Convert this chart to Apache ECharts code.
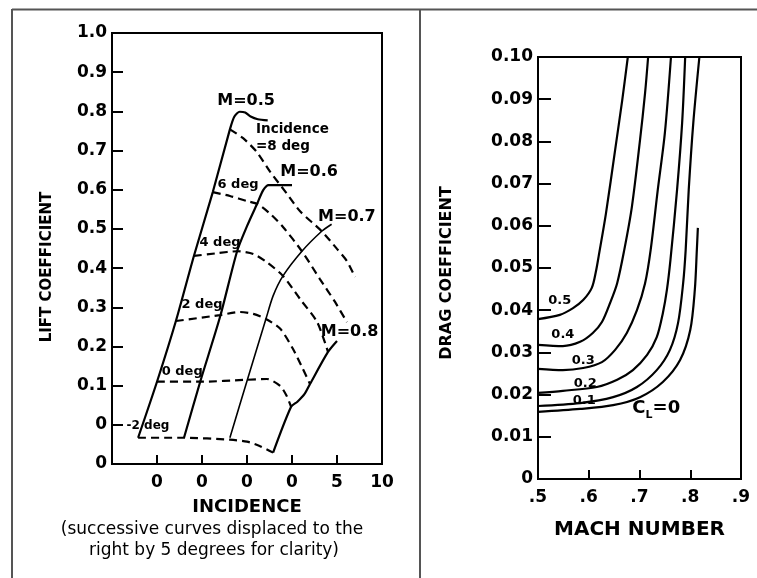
<!DOCTYPE html>
<html>
<head>
<meta charset="utf-8">
<script src="https://cdn.jsdelivr.net/npm/echarts@6/dist/echarts.min.js"></script>
<style>
  html, body { margin: 0; padding: 0; background: #fff; }
  #chart { width: 757px; height: 578px; }
</style>
</head>
<body>
<div id="chart"></div>
<script>
// left panel: lift coefficient vs incidence, each Mach curve shifted right by 5 deg
const machNames = ["M=0.5", "M=0.6", "M=0.7", "M=0.8"];
const shiftDeg = 5;
// [incidence (deg), CL] along each Mach curve
const liftM05 = [[-2.1, -0.033], [0, 0.11], [2.1, 0.265], [4.1, 0.431], [6.2, 0.594], [8.1, 0.754], [8.6, 0.787], [9.2, 0.799], [9.8, 0.797], [10.4, 0.787], [11.2, 0.78], [12.3, 0.777]];
const liftM06 = [[-2.0, -0.033], [-0.2, 0.11], [2.0, 0.275], [3.9, 0.443], [5.0, 0.507], [6.1, 0.563], [6.8, 0.599], [7.4, 0.612], [8.3, 0.612], [10.0, 0.612]];
const liftM07 = [[-1.9, -0.033], [0, 0.112], [2.1, 0.27], [2.9, 0.329], [4.0, 0.38], [6.1, 0.443], [8.3, 0.494], [9.4, 0.512]];
const liftM08 = [[-2.1, -0.071], [-0.1, 0.046], [0.6, 0.059], [1.4, 0.079], [2.0, 0.104], [4.0, 0.186], [5.0, 0.214]];
// constant-incidence lines, in displaced axis units
const incNames = ["-2 deg", "0 deg", "2 deg", "4 deg", "6 deg", "Incidence\n=8 deg"];
const incM2 = [[2.9, -0.033], [8.0, -0.033], [13.1, -0.038], [15.0, -0.043], [16.4, -0.054], [17.9, -0.071]];
const inc0 = [[5.0, 0.11], [9.8, 0.11], [15.0, 0.115], [17.2, 0.117], [18.7, 0.099], [19.4, 0.074], [19.9, 0.046]];
const inc2 = [[7.1, 0.265], [12.0, 0.28], [14.2, 0.288], [15.7, 0.283], [17.1, 0.27], [18.7, 0.245], [20.1, 0.194], [21.2, 0.143], [22.0, 0.104]];
const inc4 = [[9.1, 0.431], [11.7, 0.438], [13.9, 0.443], [15.7, 0.436], [17.2, 0.415], [19.0, 0.38], [20.9, 0.321], [22.8, 0.262], [24.0, 0.186]];
const inc6 = [[11.2, 0.594], [13.1, 0.584], [15.0, 0.571], [16.2, 0.563], [17.6, 0.538], [19.0, 0.505], [21.1, 0.443], [23.1, 0.372], [24.8, 0.313], [26.1, 0.262]];
const inc8 = [[13.1, 0.754], [14.6, 0.731], [16.1, 0.696], [17.6, 0.645], [19.4, 0.591], [20.9, 0.545], [23.3, 0.494], [25.0, 0.449], [26.1, 0.418], [27.0, 0.377]];
const incTickLabels = ["", "0", "0", "0", "0", "5", "10"];

// right panel: drag coefficient vs Mach number
const clNames = ["0.5", "0.4", "0.3", "0.2", "0.1", "C_L=0"];
const dragCL05 = [[0.5, 0.0379], [0.543, 0.0389], [0.569, 0.0405], [0.589, 0.0424], [0.606, 0.0453], [0.614, 0.0491], [0.62, 0.0531], [0.634, 0.063], [0.652, 0.078], [0.666, 0.0898], [0.677, 0.1]];
const dragCL04 = [[0.5, 0.0318], [0.549, 0.0315], [0.583, 0.0325], [0.608, 0.0346], [0.626, 0.0372], [0.642, 0.0417], [0.656, 0.0464], [0.67, 0.0543], [0.685, 0.0645], [0.701, 0.0803], [0.711, 0.0915], [0.717, 0.1]];
const dragCL03 = [[0.5, 0.0261], [0.549, 0.0258], [0.589, 0.0263], [0.626, 0.0277], [0.652, 0.0306], [0.675, 0.0346], [0.695, 0.04], [0.711, 0.0464], [0.722, 0.0543], [0.736, 0.0685], [0.75, 0.082], [0.762, 0.1]];
const dragCL02 = [[0.5, 0.0204], [0.549, 0.0209], [0.616, 0.0218], [0.656, 0.0235], [0.687, 0.0258], [0.715, 0.0294], [0.734, 0.0336], [0.746, 0.0393], [0.754, 0.0448], [0.761, 0.0519], [0.774, 0.0685], [0.784, 0.0844], [0.79, 0.1]];
const dragCL01 = [[0.5, 0.0173], [0.583, 0.018], [0.648, 0.0194], [0.695, 0.0218], [0.734, 0.0258], [0.76, 0.0306], [0.776, 0.037], [0.786, 0.0464], [0.791, 0.0543], [0.797, 0.0685], [0.806, 0.0844], [0.818, 0.1]];
const dragCL00 = [[0.5, 0.0159], [0.583, 0.0166], [0.648, 0.0175], [0.701, 0.0194], [0.746, 0.023], [0.78, 0.0282], [0.8, 0.0353], [0.809, 0.0448], [0.813, 0.0543], [0.815, 0.0595]];

const FONT = "DejaVu Sans";
const chart = echarts.init(document.getElementById("chart"));

function curve(data, gi, opts) {
  return Object.assign({
    type: "line",
    xAxisIndex: gi,
    yAxisIndex: gi,
    data: data,
    symbol: "none",
    smooth: 0.25,
    silent: true,
    lineStyle: { color: "#000", width: 2.2 },
  }, opts || {});
}

// text placed in data space
function notes(gi, items) {
  return {
    type: "scatter",
    xAxisIndex: gi,
    yAxisIndex: gi,
    symbolSize: 0,
    silent: true,
    z: 5,
    itemStyle: { opacity: 1 },
    data: items.map(function (t) {
      return {
        value: t.at,
        label: Object.assign({
          show: true,
          position: "inside",
          formatter: t.text,
          color: "#000",
          opacity: 1,
          fontFamily: FONT,
          fontWeight: "bold",
          fontSize: 13,
        }, t.style || {}),
      };
    }),
  };
}

const series = [];
[liftM05, liftM06, liftM07, liftM08].forEach(function (c, k) {
  const shifted = c.map(function (p) { return [p[0] + shiftDeg * (k + 1), p[1]]; });
  series.push(curve(shifted, 0, { lineStyle: { color: "#000", width: k === 2 ? 1.6 : 2.2 } }));
});
[incM2, inc0, inc2, inc4, inc6, inc8].forEach(function (c) {
  series.push(curve(c, 0, { lineStyle: { color: "#000", width: 2.2, type: [8, 5] } }));
});
[dragCL05, dragCL04, dragCL03, dragCL02, dragCL01, dragCL00].forEach(function (c) {
  series.push(curve(c, 1, { smooth: 0.3 }));
});

const big = { fontSize: 16 };
series.push(notes(0, [
  { text: machNames[0], at: [14.9, 0.828], style: big },
  { text: machNames[1], at: [21.9, 0.645], style: big },
  { text: machNames[2], at: [26.1, 0.53], style: big },
  { text: machNames[3], at: [26.4, 0.237], style: big },
  { text: incNames[0], at: [4.0, -0.003], style: { fontSize: 12 } },
  { text: incNames[1], at: [7.8, 0.135] },
  { text: incNames[2], at: [10.0, 0.306] },
  { text: incNames[3], at: [12.0, 0.466] },
  { text: incNames[4], at: [14.0, 0.612] },
  { text: incNames[5], at: [16.0, 0.733], style: { position: "right", distance: 0, lineHeight: 17, fontSize: 13.5 } },
]));
series.push(notes(1, [
  { text: clNames[0], at: [0.543, 0.0422] },
  { text: clNames[1], at: [0.549, 0.0341] },
  { text: clNames[2], at: [0.589, 0.028] },
  { text: clNames[3], at: [0.593, 0.0227] },
  { text: clNames[4], at: [0.591, 0.0185] },
  {
    text: "{c|C}{s|L}{c|=0}", at: [0.733, 0.0168],
    style: {
      rich: {
        c: { fontFamily: FONT, fontWeight: "bold", fontSize: 18, color: "#000", verticalAlign: "bottom" },
        s: { fontFamily: FONT, fontWeight: "bold", fontSize: 11, color: "#000", verticalAlign: "bottom", padding: [0, 0, -4, 0] },
      },
    },
  },
]));

const tickFont = { color: "#000", fontFamily: FONT, fontWeight: "bold", fontSize: 17 };
const axisLine = { show: true, onZero: false, lineStyle: { color: "#000", width: 2 } };

const option = {
  animation: false,
  backgroundColor: "#fff",
  grid: [
    { left: 112, top: 33, width: 270, height: 431, show: true, borderColor: "#000", borderWidth: 2 },
    { left: 538, top: 57, width: 203, height: 422, show: true, borderColor: "#000", borderWidth: 2 },
  ],
  xAxis: [
    {
      gridIndex: 0, type: "value", min: 0, max: 30, interval: 5,
      axisLine: axisLine, splitLine: { show: false },
      axisTick: { inside: true, length: 9, lineStyle: { color: "#000", width: 2 } },
      axisLabel: Object.assign({ margin: 10, formatter: function (v) { return incTickLabels[Math.round(v / 5)]; } }, tickFont),
      name: "INCIDENCE", nameLocation: "middle", nameGap: 34,
      nameTextStyle: { color: "#000", fontFamily: FONT, fontWeight: "bold", fontSize: 18 },
    },
    {
      gridIndex: 1, type: "value", min: 0.5, max: 0.9, interval: 0.1,
      axisLine: axisLine, splitLine: { show: false },
      axisTick: { inside: true, length: 9, lineStyle: { color: "#000", width: 2 } },
      axisLabel: Object.assign({ margin: 10, formatter: function (v) { return v.toFixed(1).replace("0.", "."); } }, tickFont),
      name: "MACH NUMBER", nameLocation: "middle", nameGap: 41,
      nameTextStyle: { color: "#000", fontFamily: FONT, fontWeight: "bold", fontSize: 20 },
    },
  ],
  yAxis: [
    {
      gridIndex: 0, type: "value", min: -0.1, max: 1.0, interval: 0.1,
      axisLine: axisLine, splitLine: { show: false },
      axisTick: { inside: true, length: 11, lineStyle: { color: "#000", width: 2 } },
      axisLabel: Object.assign({ margin: 5, formatter: function (v) { return v <= 0.001 ? "0" : v.toFixed(1); } }, tickFont),
    },
    {
      gridIndex: 1, type: "value", min: 0, max: 0.1, interval: 0.01,
      axisLine: axisLine, splitLine: { show: false },
      axisTick: { inside: true, length: 13, lineStyle: { color: "#000", width: 2 } },
      axisLabel: Object.assign({ margin: 5, formatter: function (v) { return v === 0 ? "0" : v.toFixed(2); } }, tickFont),
    },
  ],
  graphic: [
    { type: "line", shape: { x1: 12, y1: 9.5, x2: 757, y2: 9.5 }, style: { stroke: "#555", lineWidth: 2 } },
    { type: "line", shape: { x1: 12, y1: 9, x2: 12, y2: 578 }, style: { stroke: "#555", lineWidth: 2 } },
    { type: "line", shape: { x1: 420, y1: 9, x2: 420, y2: 578 }, style: { stroke: "#555", lineWidth: 2 } },
    {
      type: "text", x: 47, y: 267, rotation: Math.PI / 2,
      style: { text: "LIFT COEFFICIENT", fill: "#000", font: "bold 15px " + FONT, align: "center", verticalAlign: "middle" },
    },
    {
      type: "text", x: 447, y: 273, rotation: Math.PI / 2,
      style: { text: "DRAG COEFFICIENT", fill: "#000", font: "bold 16px " + FONT, align: "center", verticalAlign: "middle" },
    },
    {
      type: "text", x: 212, y: 530,
      style: { text: "(successive curves displaced to the", fill: "#000", font: "17px " + FONT, align: "center", verticalAlign: "middle" },
    },
    {
      type: "text", x: 214, y: 551,
      style: { text: "right by 5 degrees for clarity)", fill: "#000", font: "17px " + FONT, align: "center", verticalAlign: "middle" },
    },
  ],
  series: series,
};

chart.setOption(option);
</script>
</body>
</html>
